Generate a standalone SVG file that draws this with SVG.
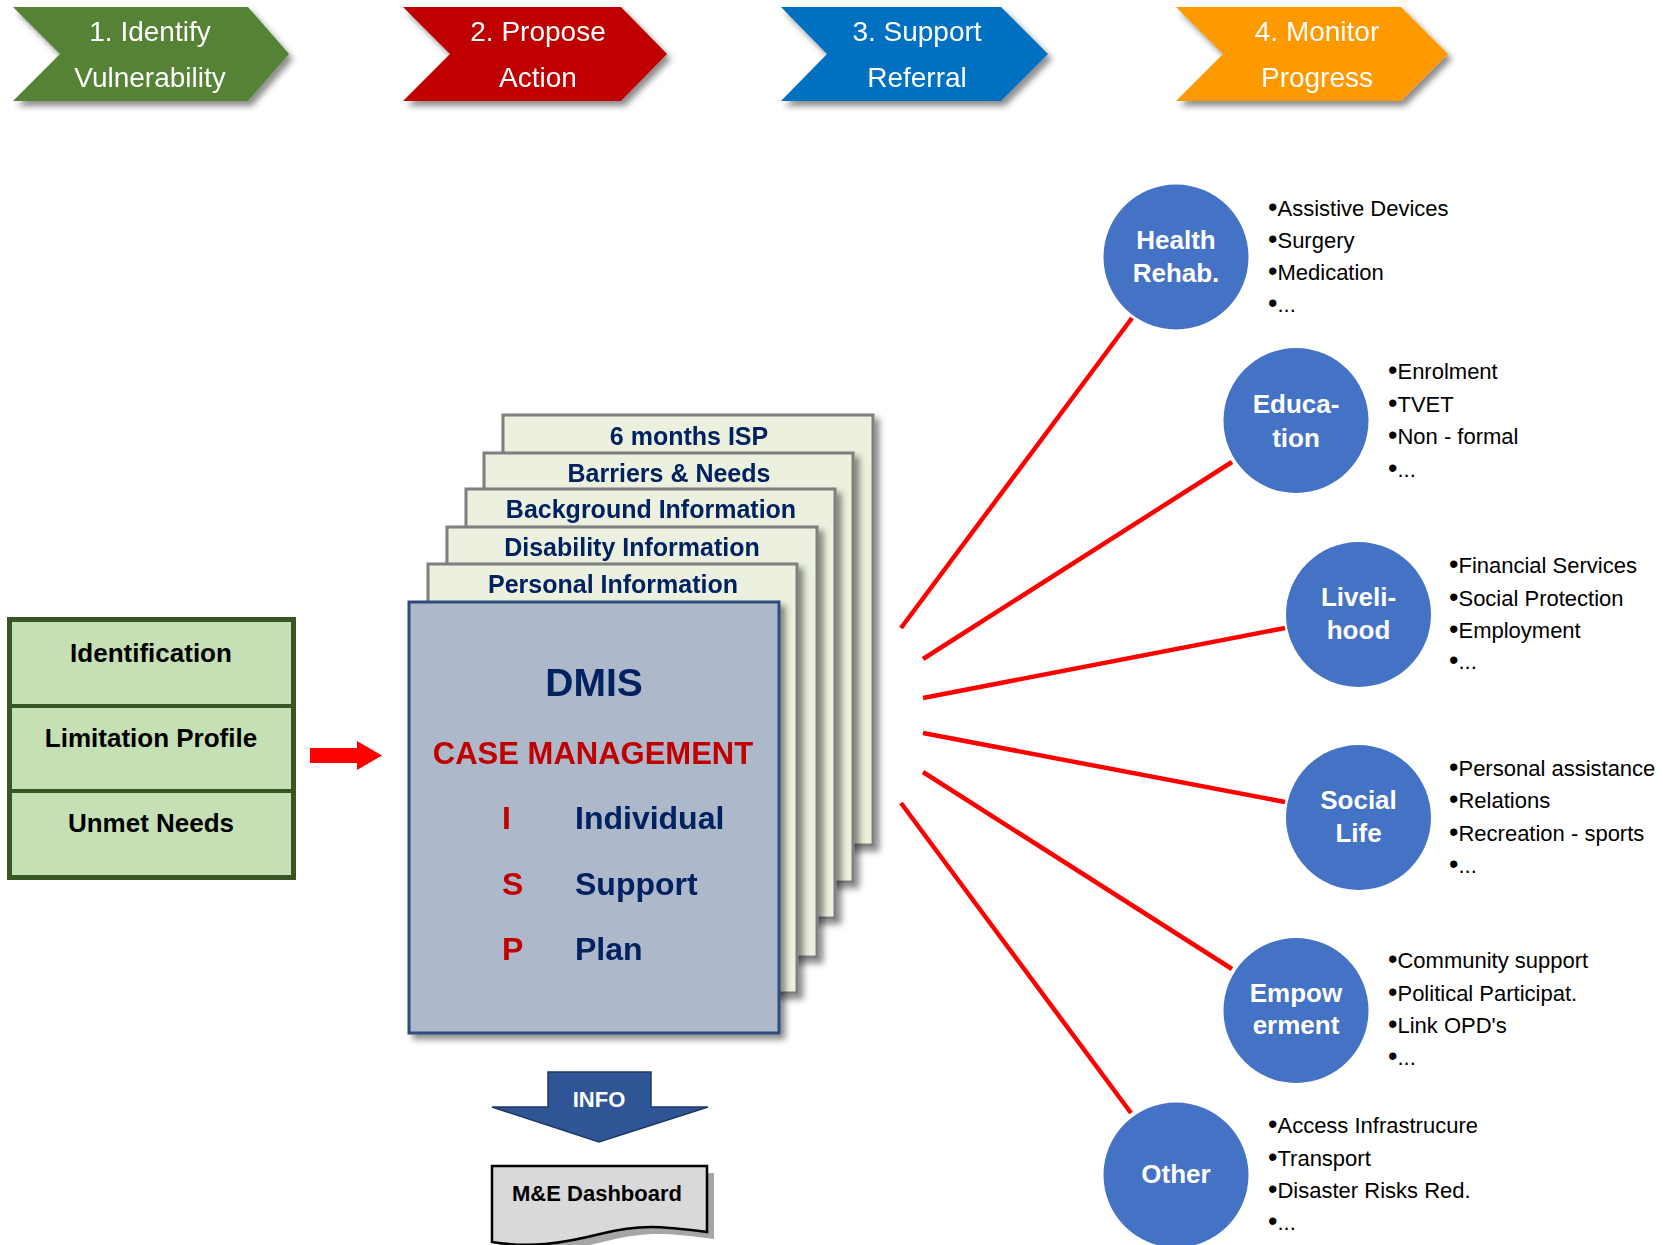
<svg xmlns="http://www.w3.org/2000/svg" width="1663" height="1245" viewBox="0 0 1663 1245">
<defs>
<style>
text{font-family:"Liberation Sans",Arial,sans-serif}
.chev{font-size:28px;fill:#ffffff;text-anchor:middle}
.lbox{font-size:26px;font-weight:bold;fill:#000;text-anchor:middle}
.page{fill:#ebf1de;stroke:#7f7f7f;stroke-width:3}
.ptxt{font-size:25px;font-weight:bold;fill:#002060;text-anchor:middle}
.circ{fill:#4472c4}
.ctxt{font-size:26px;font-weight:bold;fill:#ffffff;text-anchor:middle}
.list{font-size:22px;fill:#000}
.b{font-size:27px}
.conn{stroke:#ff0000;stroke-width:4.5;fill:none}
.red{font-weight:bold;fill:#c00000}
.navy{font-weight:bold;fill:#002060}
</style>
<filter id="sh" x="-10%" y="-10%" width="130%" height="140%">
<feDropShadow dx="4" dy="5" stdDeviation="3" flood-color="#000" flood-opacity="0.45"/>
</filter>
<filter id="sh2" x="-10%" y="-10%" width="130%" height="130%">
<feDropShadow dx="5" dy="5" stdDeviation="3" flood-color="#000" flood-opacity="0.45"/>
</filter>
</defs>
<rect x="0" y="0" width="1663" height="1245" fill="#ffffff"/>

<g id="step1" filter="url(#sh)">
<polygon points="13,7 248,7 289,54 248,101 13,101 60,54" fill="#548235"/>
<text class="chev" x="150" y="41">1. Identify</text>
<text class="chev" x="150" y="87">Vulnerability</text>
</g>
<g id="step2" filter="url(#sh)">
<polygon points="403,7 621,7 667,54 621,101 403,101 450,54" fill="#c00000"/>
<text class="chev" x="538" y="41">2. Propose</text>
<text class="chev" x="538" y="87">Action</text>
</g>
<g id="step3" filter="url(#sh)">
<polygon points="781,7 1001,7 1048,54 1001,101 781,101 827,54" fill="#0070c0"/>
<text class="chev" x="917" y="41">3. Support</text>
<text class="chev" x="917" y="87">Referral</text>
</g>
<g id="step4" filter="url(#sh)">
<polygon points="1176,7 1401,7 1448,54 1401,101 1176,101 1223,54" fill="#ff9900"/>
<text class="chev" x="1317" y="41">4. Monitor</text>
<text class="chev" x="1317" y="87">Progress</text>
</g>

<g id="identification-box">
<rect x="9.5" y="619.5" width="284" height="258" fill="#c5e0b4" stroke="#375623" stroke-width="5"/>
<line x1="9.5" y1="706" x2="293.5" y2="706" stroke="#375623" stroke-width="4"/>
<line x1="9.5" y1="791" x2="293.5" y2="791" stroke="#375623" stroke-width="4"/>
<text class="lbox" x="151" y="662">Identification</text>
<text class="lbox" x="151" y="747">Limitation Profile</text>
<text class="lbox" x="151" y="832">Unmet Needs</text>
</g>

<g id="red-arrow">
<polygon points="310,748 357,748 357,741 382,755.5 357,770 357,763 310,763" fill="#ff0000"/>
</g>

<g id="page-isp" filter="url(#sh2)">
<rect class="page" x="503" y="415" width="370" height="430"/>
<text class="ptxt" x="689" y="445">6 months ISP</text>
</g>
<g id="page-barriers" filter="url(#sh2)">
<rect class="page" x="484" y="453" width="369" height="429"/>
<text class="ptxt" x="669" y="482">Barriers &amp; Needs</text>
</g>
<g id="page-background" filter="url(#sh2)">
<rect class="page" x="466" y="489" width="369" height="429"/>
<text class="ptxt" x="651" y="518">Background Information</text>
</g>
<g id="page-disability" filter="url(#sh2)">
<rect class="page" x="447" y="527" width="370" height="430"/>
<text class="ptxt" x="632" y="556">Disability Information</text>
</g>
<g id="page-personal" filter="url(#sh2)">
<rect class="page" x="428" y="564" width="369" height="429"/>
<text class="ptxt" x="613" y="593">Personal Information</text>
</g>

<g id="dmis" filter="url(#sh2)">
<rect x="409" y="602" width="370" height="431" fill="#adb9ca" stroke="#2f4b7c" stroke-width="3"/>
<text class="navy" x="594" y="696" font-size="39" text-anchor="middle">DMIS</text>
<text class="red" x="593" y="764" font-size="31" text-anchor="middle">CASE MANAGEMENT</text>
<text class="red" x="502" y="829" font-size="32">I</text>
<text class="navy" x="575" y="829" font-size="32">Individual</text>
<text class="red" x="502" y="895" font-size="32">S</text>
<text class="navy" x="575" y="895" font-size="32">Support</text>
<text class="red" x="502" y="960" font-size="32">P</text>
<text class="navy" x="575" y="960" font-size="32">Plan</text>
</g>

<g id="info-arrow">
<polygon points="548,1072 651,1072 651,1107 708,1107 599,1142 492,1107 548,1107" fill="#2f5597" stroke="#1f3864" stroke-width="1.5"/>
<text x="599" y="1107" font-size="22" font-weight="bold" fill="#ffffff" text-anchor="middle">INFO</text>
</g>

<g id="dashboard">
<path d="M499,1173 H714 V1239 C667,1233 647,1231 607,1241 C567,1251 537,1255 499,1249 Z" fill="#a6a6a6"/>
<path d="M492,1166 H707 V1232 C660,1226 640,1224 600,1234 C560,1244 530,1248 492,1242 Z" fill="#d9d9d9" stroke="#000" stroke-width="2.5"/>
<text x="597" y="1201" font-size="22" font-weight="bold" fill="#000" text-anchor="middle">M&amp;E Dashboard</text>
</g>

<g id="connectors">
<line class="conn" x1="901" y1="628" x2="1132" y2="318"/>
<line class="conn" x1="923" y1="659" x2="1232" y2="462"/>
<line class="conn" x1="923" y1="698" x2="1285" y2="628"/>
<line class="conn" x1="923" y1="733" x2="1285" y2="802"/>
<line class="conn" x1="923" y1="772" x2="1232" y2="969"/>
<line class="conn" x1="901" y1="803" x2="1131" y2="1113"/>
</g>

<g id="health">
<circle class="circ" cx="1176" cy="257" r="72.5"/>
<text class="ctxt" x="1176" y="249">Health</text>
<text class="ctxt" x="1176" y="282">Rehab.</text>
<text class="list" x="1268" y="216"><tspan class="b">•</tspan>Assistive Devices</text>
<text class="list" x="1268" y="248"><tspan class="b">•</tspan>Surgery</text>
<text class="list" x="1268" y="280"><tspan class="b">•</tspan>Medication</text>
<text class="list" x="1268" y="312"><tspan class="b">•</tspan>...</text>
</g>
<g id="education">
<circle class="circ" cx="1296" cy="420.5" r="72.5"/>
<text class="ctxt" x="1296" y="413">Educa-</text>
<text class="ctxt" x="1296" y="447">tion</text>
<text class="list" x="1388" y="379"><tspan class="b">•</tspan>Enrolment</text>
<text class="list" x="1388" y="412"><tspan class="b">•</tspan>TVET</text>
<text class="list" x="1388" y="444"><tspan class="b">•</tspan>Non - formal</text>
<text class="list" x="1388" y="477"><tspan class="b">•</tspan>...</text>
</g>
<g id="livelihood">
<circle class="circ" cx="1358.5" cy="614.5" r="72.5"/>
<text class="ctxt" x="1358.5" y="606">Liveli-</text>
<text class="ctxt" x="1358.5" y="639">hood</text>
<text class="list" x="1449" y="573"><tspan class="b">•</tspan>Financial Services</text>
<text class="list" x="1449" y="606"><tspan class="b">•</tspan>Social Protection</text>
<text class="list" x="1449" y="638"><tspan class="b">•</tspan>Employment</text>
<text class="list" x="1449" y="669"><tspan class="b">•</tspan>...</text>
</g>
<g id="social-life">
<circle class="circ" cx="1358.5" cy="817.5" r="72.5"/>
<text class="ctxt" x="1358.5" y="809">Social</text>
<text class="ctxt" x="1358.5" y="842">Life</text>
<text class="list" x="1449" y="776"><tspan class="b">•</tspan>Personal assistance</text>
<text class="list" x="1449" y="808"><tspan class="b">•</tspan>Relations</text>
<text class="list" x="1449" y="841"><tspan class="b">•</tspan>Recreation - sports</text>
<text class="list" x="1449" y="873"><tspan class="b">•</tspan>...</text>
</g>
<g id="empowerment">
<circle class="circ" cx="1296" cy="1010.5" r="72.5"/>
<text class="ctxt" x="1296" y="1002">Empow</text>
<text class="ctxt" x="1296" y="1034">erment</text>
<text class="list" x="1388" y="968"><tspan class="b">•</tspan>Community support</text>
<text class="list" x="1388" y="1001"><tspan class="b">•</tspan>Political Participat.</text>
<text class="list" x="1388" y="1033"><tspan class="b">•</tspan>Link OPD's</text>
<text class="list" x="1388" y="1065"><tspan class="b">•</tspan>...</text>
</g>
<g id="other">
<circle class="circ" cx="1176" cy="1175" r="72.5"/>
<text class="ctxt" x="1176" y="1183">Other</text>
<text class="list" x="1268" y="1133"><tspan class="b">•</tspan>Access Infrastrucure</text>
<text class="list" x="1268" y="1166"><tspan class="b">•</tspan>Transport</text>
<text class="list" x="1268" y="1198"><tspan class="b">•</tspan>Disaster Risks Red.</text>
<text class="list" x="1268" y="1230"><tspan class="b">•</tspan>...</text>
</g>
</svg>
